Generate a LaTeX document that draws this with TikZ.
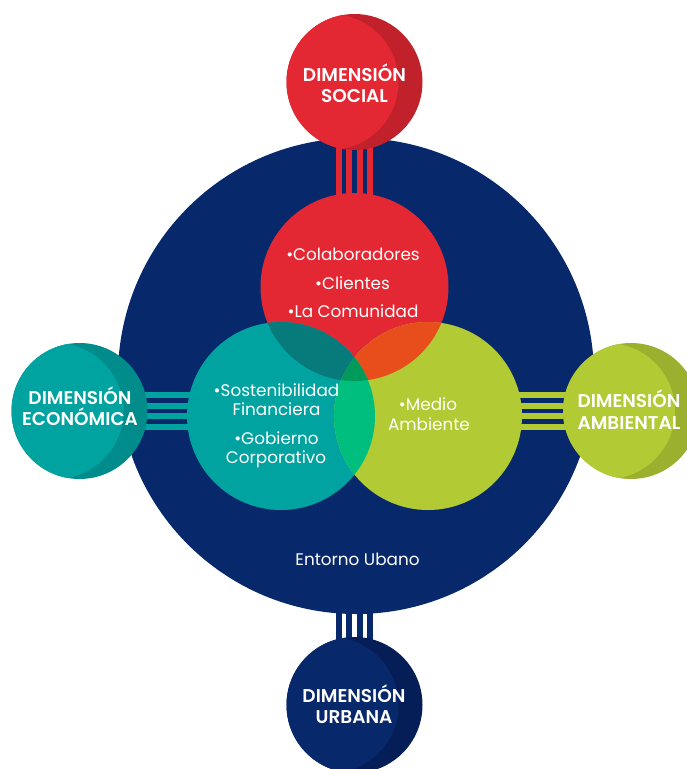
\documentclass[tikz,border=0pt]{standalone}
\usepackage{fontspec}
\setmainfont{Poppins}[BoldFont={Poppins SemiBold}]
\definecolor{navy}{RGB}{7,40,107}
\definecolor{navydk}{RGB}{5,30,88}
\definecolor{redc}{RGB}{227,40,52}
\definecolor{reddk}{RGB}{192,33,43}
\definecolor{tealc}{RGB}{0,163,160}
\definecolor{tealdk}{RGB}{0,140,138}
\definecolor{greenc}{RGB}{178,202,52}
\definecolor{greendk}{RGB}{155,176,46}
\definecolor{rtc}{RGB}{7,123,124}
\definecolor{rgc}{RGB}{232,78,28}
\definecolor{tgc}{RGB}{0,190,126}
\definecolor{rtgc}{RGB}{0,154,91}
\newcommand\dimcirc[3]{%
  \fill[#3] (#1) circle[radius=68pt];
  \begin{scope}
    \clip (#1) circle[radius=68pt];
    \fill[#2] ([xshift=-24pt]#1) circle[radius=68pt];
  \end{scope}}
\tikzset{
  dimtext/.style={text=white,anchor=base,inner sep=0pt,font=\bfseries\fontsize{18.5}{20}\selectfont},
  intext/.style={text=white,anchor=base,inner sep=0pt,font=\fontsize{16.8}{20}\selectfont},
  bar/.style={line width=6.2pt}
}
\begin{document}
\begin{tikzpicture}[x=1pt,y=-1pt]
\useasboundingbox (0,0) rectangle (687,769);
\coordinate (C) at (356,376);
\coordinate (S) at (354.5,82);
\coordinate (E) at (79.5,411);
\coordinate (A) at (631,411);
\coordinate (U) at (354.5,705);
\coordinate (R) at (354.5,287);
\coordinate (T) at (281,416);
\coordinate (G) at (428,416);
% big navy circle
\fill[navy] (C) circle[radius=238pt];
% bars
\foreach \d in {-15.75,-5.25,5.25,15.75}{
  \draw[bar,redc] ([xshift=\d pt]S) -- ([xshift=\d pt]S |- R);
  \draw[bar,navy] ([xshift=\d pt]U) -- ([xshift=\d pt]U |- C);
  \draw[bar,tealc] ([yshift=\d pt]E) -- ([yshift=\d pt]E -| T);
  \draw[bar,greenc] ([yshift=\d pt]A) -- ([yshift=\d pt]A -| G);
}
% inner circles
\fill[redc] (R) circle[radius=94pt];
\fill[tealc] (T) circle[radius=94pt];
\fill[greenc] (G) circle[radius=94pt];
\begin{scope}
  \clip (R) circle[radius=94pt];
  \fill[rtc] (T) circle[radius=94pt];
  \fill[rgc] (G) circle[radius=94pt];
\end{scope}
\begin{scope}
  \clip (T) circle[radius=94pt];
  \fill[tgc] (G) circle[radius=94pt];
  \clip (R) circle[radius=94pt];
  \fill[rtgc] (G) circle[radius=94pt];
\end{scope}
% dimension circles
\dimcirc{S}{redc}{reddk}
\dimcirc{E}{tealc}{tealdk}
\dimcirc{A}{greenc}{greendk}
\dimcirc{U}{navy}{navydk}
% texts
\node[dimtext] (s1) at (354.5,81) {DIMENSIÓN};
\node[dimtext] (s2) at (354.5,102) {SOCIAL};
\node[dimtext] (e1) at (80,404) {DIMENSIÓN};
\node[dimtext] (e2) at (80,425) {ECONÓMICA};
\node[dimtext] (a1) at (629,407) {DIMENSIÓN};
\node[dimtext] (a2) at (629,429) {AMBIENTAL};
\node[dimtext] (u1) at (354,702) {DIMENSIÓN};
\node[dimtext] (u2) at (354,723) {URBANA};
\node[intext] (r1) at (353,260) {•Colaboradores};
\node[intext] (r2) at (352.5,289) {•Clientes};
\node[intext] (r3) at (353,317) {•La Comunidad};
\node[intext] (t1) at (276.5,396) {•Sostenibilidad};
\node[intext] (t2) at (276.5,415) {Financiera};
\node[intext] (t3) at (276.5,444) {•Gobierno};
\node[intext] (t4) at (276,463) {Corporativo};
\node[intext] (g1) at (428,410) {•Medio};
\node[intext] (g2) at (429,430) {Ambiente};
\node[intext] (en) at (357.5,565) {Entorno Ubano};
\end{tikzpicture}
\end{document}
